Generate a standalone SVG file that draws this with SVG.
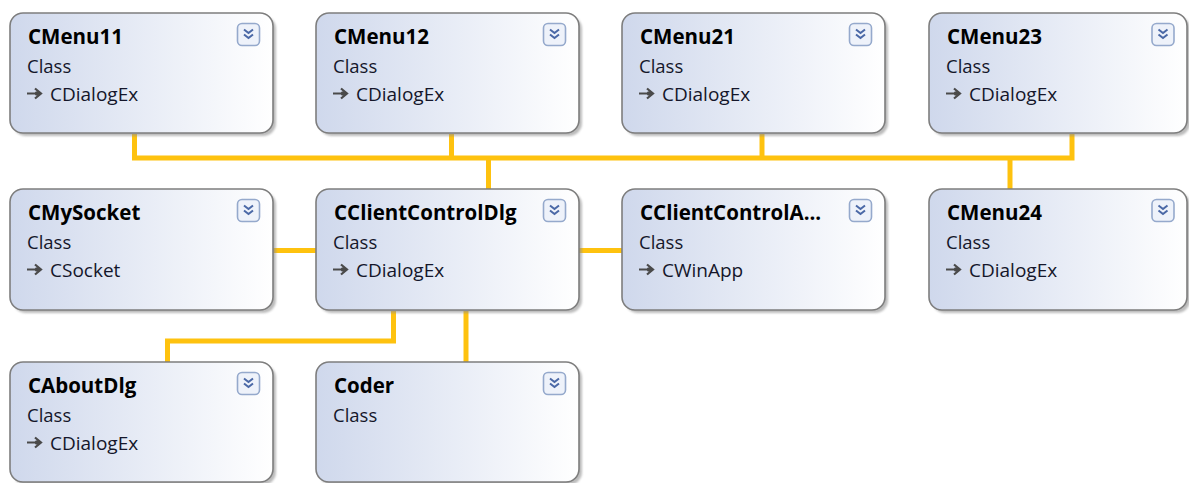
<svg xmlns="http://www.w3.org/2000/svg" xmlns:xlink="http://www.w3.org/1999/xlink" width="1189" height="483" viewBox="0 0 1189 483">
  <style>
    .body { fill: url(#classFill); stroke: #7e7e7e; stroke-width: 1.6; }
    .shadow { fill: #8f8f8f; opacity: 0.6; filter: url(#soft); }
    .title { font-family: "Open Sans", "Noto Sans", sans-serif; font-weight: bold; font-size: 20.5px; fill: #000; }
    .kind, .base { font-family: "Open Sans", "Noto Sans", sans-serif; font-size: 18.5px; fill: #14162a; }
    .base { font-size: 19px; }
    .link { fill: none; stroke: #FEC20F; stroke-width: 5; stroke-linejoin: miter; stroke-linecap: butt; }
  </style>
  <defs>
    <linearGradient id="classFill" x1="0" y1="0" x2="1" y2="0">
      <stop offset="0" stop-color="#CFD8EC"/>
      <stop offset="1" stop-color="#FFFFFF"/>
    </linearGradient>
    <filter id="soft" x="-5%" y="-5%" width="110%" height="110%">
      <feGaussianBlur stdDeviation="1.2"/>
    </filter>
    <!-- collapse/expand toggle button -->
    <g id="toggle">
      <rect x="-11" y="-11" width="22" height="22" rx="4.5" fill="#EEF2FA" stroke="#95A9CC" stroke-width="1.6"/>
      <path d="M-4.5,-5 L0,-1.5 L4.5,-5 M-4.5,0 L0,3.5 L4.5,0" fill="none" stroke="#4A68A6" stroke-width="2"/>
    </g>
    <!-- inheritance marker before the base class name -->
    <g id="inherits">
      <path d="M0,0 H13" stroke="#4a4a4a" stroke-width="2"/>
      <path d="M8,-5 L14,0 L8,5" fill="none" stroke="#4a4a4a" stroke-width="2.2"/>
      <circle cx="10" cy="0" r="2.2" fill="#4a4a4a"/>
    </g>
  </defs>

  <rect width="1189" height="483" fill="#FFFFFF"/>

  <!-- connectors -->
  <g id="connectors">
    <path class="link" d="M134.5,134 V158 H1072 V134"/>
    <path class="link" d="M451.5,134 V158"/>
    <path class="link" d="M762,134 V158"/>
    <path class="link" d="M488.5,158 V189"/>
    <path class="link" d="M1010,158 V189"/>
    <path class="link" d="M273,250.5 H316"/>
    <path class="link" d="M579,250.5 H622"/>
    <path class="link" d="M393.5,311 V341 H167.5 V362"/>
    <path class="link" d="M466,311 V362"/>
  </g>

  <!-- row 1 -->
  <g id="CMenu11" transform="translate(10,13)">
    <rect class="shadow" x="3" y="3" width="263" height="120" rx="13"/>
    <rect class="body" x="0" y="0" width="263" height="120" rx="13"/>
    <use xlink:href="#toggle" x="238.5" y="21.5"/>
    <text class="title" x="18" y="31">CMenu11</text>
    <text class="kind" x="17" y="59.5">Class</text>
    <use xlink:href="#inherits" x="17" y="80.5"/>
    <text class="base" x="40" y="87.5">CDialogEx</text>
  </g>
  <g id="CMenu12" transform="translate(316,13)">
    <rect class="shadow" x="3" y="3" width="263" height="120" rx="13"/>
    <rect class="body" x="0" y="0" width="263" height="120" rx="13"/>
    <use xlink:href="#toggle" x="238.5" y="21.5"/>
    <text class="title" x="18" y="31">CMenu12</text>
    <text class="kind" x="17" y="59.5">Class</text>
    <use xlink:href="#inherits" x="17" y="80.5"/>
    <text class="base" x="40" y="87.5">CDialogEx</text>
  </g>
  <g id="CMenu21" transform="translate(622,13)">
    <rect class="shadow" x="3" y="3" width="263" height="120" rx="13"/>
    <rect class="body" x="0" y="0" width="263" height="120" rx="13"/>
    <use xlink:href="#toggle" x="238.5" y="21.5"/>
    <text class="title" x="18" y="31">CMenu21</text>
    <text class="kind" x="17" y="59.5">Class</text>
    <use xlink:href="#inherits" x="17" y="80.5"/>
    <text class="base" x="40" y="87.5">CDialogEx</text>
  </g>
  <g id="CMenu23" transform="translate(929,13)">
    <rect class="shadow" x="3" y="3" width="258" height="120" rx="13"/>
    <rect class="body" x="0" y="0" width="258" height="120" rx="13"/>
    <use xlink:href="#toggle" x="234" y="21.5"/>
    <text class="title" x="18" y="31">CMenu23</text>
    <text class="kind" x="17" y="59.5">Class</text>
    <use xlink:href="#inherits" x="17" y="80.5"/>
    <text class="base" x="40" y="87.5">CDialogEx</text>
  </g>

  <!-- row 2 -->
  <g id="CMySocket" transform="translate(10,189)">
    <rect class="shadow" x="3" y="3" width="263" height="121" rx="13"/>
    <rect class="body" x="0" y="0" width="263" height="121" rx="13"/>
    <use xlink:href="#toggle" x="238.5" y="21.5"/>
    <text class="title" x="18" y="31">CMySocket</text>
    <text class="kind" x="17" y="59.5">Class</text>
    <use xlink:href="#inherits" x="17" y="80.5"/>
    <text class="base" x="40" y="87.5">CSocket</text>
  </g>
  <g id="CClientControlDlg" transform="translate(316,189)">
    <rect class="shadow" x="3" y="3" width="263" height="121" rx="13"/>
    <rect class="body" x="0" y="0" width="263" height="121" rx="13"/>
    <use xlink:href="#toggle" x="238.5" y="21.5"/>
    <text class="title" x="18" y="31">CClientControlDlg</text>
    <text class="kind" x="17" y="59.5">Class</text>
    <use xlink:href="#inherits" x="17" y="80.5"/>
    <text class="base" x="40" y="87.5">CDialogEx</text>
  </g>
  <g id="CClientControlApp" transform="translate(622,189)">
    <rect class="shadow" x="3" y="3" width="263" height="121" rx="13"/>
    <rect class="body" x="0" y="0" width="263" height="121" rx="13"/>
    <use xlink:href="#toggle" x="238.5" y="21.5"/>
    <text class="title" x="18" y="31">CClientControlA...</text>
    <text class="kind" x="17" y="59.5">Class</text>
    <use xlink:href="#inherits" x="17" y="80.5"/>
    <text class="base" x="40" y="87.5">CWinApp</text>
  </g>
  <g id="CMenu24" transform="translate(929,189)">
    <rect class="shadow" x="3" y="3" width="258" height="121" rx="13"/>
    <rect class="body" x="0" y="0" width="258" height="121" rx="13"/>
    <use xlink:href="#toggle" x="234" y="21.5"/>
    <text class="title" x="18" y="31">CMenu24</text>
    <text class="kind" x="17" y="59.5">Class</text>
    <use xlink:href="#inherits" x="17" y="80.5"/>
    <text class="base" x="40" y="87.5">CDialogEx</text>
  </g>

  <!-- row 3 -->
  <g id="CAboutDlg" transform="translate(10,362)">
    <rect class="shadow" x="3" y="3" width="263" height="120" rx="13"/>
    <rect class="body" x="0" y="0" width="263" height="120" rx="13"/>
    <use xlink:href="#toggle" x="238.5" y="21.5"/>
    <text class="title" x="18" y="31">CAboutDlg</text>
    <text class="kind" x="17" y="59.5">Class</text>
    <use xlink:href="#inherits" x="17" y="80.5"/>
    <text class="base" x="40" y="87.5">CDialogEx</text>
  </g>
  <g id="Coder" transform="translate(316,362)">
    <rect class="shadow" x="3" y="3" width="263" height="120" rx="13"/>
    <rect class="body" x="0" y="0" width="263" height="120" rx="13"/>
    <use xlink:href="#toggle" x="238.5" y="21.5"/>
    <text class="title" x="18" y="31">Coder</text>
    <text class="kind" x="17" y="59.5">Class</text>
  </g>
</svg>
